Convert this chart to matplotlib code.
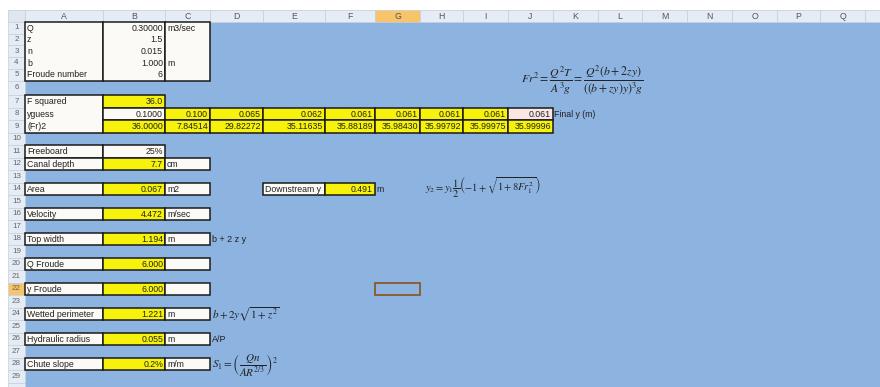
import matplotlib.pyplot as plt
from matplotlib.patches import Rectangle

plt.rcParams['font.family'] = ['Liberation Sans', 'DejaVu Sans']
plt.rcParams['mathtext.fontset'] = 'stix'

# --- feuille : colonnes et lignes
col_letters = list('ABCDEFGHIJKLMNOPQR')
col_edges = [25, 103, 165, 210, 263, 325, 375, 420, 463, 508, 553, 598, 642, 687, 732, 777, 820, 865, 910]
n_rows = 30

# --- donnees d'entree
input_labels = ['Q', 'z', 'n', 'b', 'Froude number']
input_values = ['0.30000', '1.5', '0.015', '1.000', '6']
input_units = ['m3/sec', '', '', 'm', '']

# --- iterations
f_squared = '36.0'
yguess = ['0.1000', '0.100', '0.065', '0.062', '0.061', '0.061', '0.061', '0.061', '0.061']
fr2 = ['36.0000', '7.84514', '29.82272', '35.11635', '35.88189', '35.98430', '35.99792', '35.99975', '35.99996']

# --- resultats
result_rows = [11, 12, 14, 16, 18, 20, 22, 24, 26, 28]
result_labels = ['Freeboard', 'Canal depth', 'Area', 'Velocity', 'Top width', 'Q Froude',
                 'y Froude', 'Wetted perimeter', 'Hydraulic radius', 'Chute slope']
result_values = ['25%', '7.7', '0.067', '4.472', '1.194', '6.000', '6.000', '1.221', '0.055', '0.2%']
result_units = [None, 'cm', 'm2', 'm/sec', 'm', '', '', 'm', 'm', 'm/m']
notes = {18: ('b + 2 z y', 6.5), 24: (r'$b+2y\sqrt{1+z^2}$', 8), 26: ('A/P', 6.5),
         28: (r'$S_1=\left(\dfrac{Qn}{AR^{2/3}}\right)^2$', 8)}

downstream = ['Downstream y', '0.491', 'm']

BLUE = '#8db3e0'
YELLOW = '#f6f20c'
WHITE = '#fbfaf6'
PINK = '#fbe6e6'
HEAD = '#e6ecf5'
ORANGE = '#f7c46a'
FS = 6.3

# hauteurs des lignes
row_top = {}
y = 22.0
for r in range(1, n_rows + 1):
    row_top[r] = y
    if r <= 5:
        y += 11.7
    elif r == 6:
        y += 14.5
    else:
        y += 12.5
row_bot = {r: row_top[r + 1] if r < n_rows else row_top[r] + 12.5 for r in row_top}


def cx(c):
    i = col_letters.index(c)
    return col_edges[i], col_edges[i + 1]


fig = plt.figure(figsize=(8.8, 3.87), dpi=100)
ax = fig.add_axes([0, 0, 1, 1])
ax.set_xlim(0, 880)
ax.set_ylim(387, 0)
ax.axis('off')

# fond bleu
ax.add_patch(Rectangle((25, 22), 880, 400, facecolor=BLUE, edgecolor='none'))

# en-tetes de colonnes
ax.add_patch(Rectangle((8, 10), 880, 12, facecolor=HEAD, edgecolor='none'))
for i, c in enumerate(col_letters):
    x0, x1 = col_edges[i], col_edges[i + 1]
    fc = ORANGE if c == 'G' else HEAD
    ax.add_patch(Rectangle((x0, 10), x1 - x0, 12, facecolor=fc, edgecolor='#c5cfdc', lw=0.5))
    if x1 <= 880:
        ax.text((x0 + x1) / 2, 16.5, c, ha='center', va='center', fontsize=FS, color='#555555')
ax.add_patch(Rectangle((8, 10), 17, 12, facecolor='#dfe6f0', edgecolor='#c5cfdc', lw=0.5))

# numeros de lignes
for r in range(1, n_rows + 1):
    fc = ORANGE if r == 22 else HEAD
    ax.add_patch(Rectangle((8, row_top[r]), 17, row_bot[r] - row_top[r], facecolor=fc,
                           edgecolor='#c5cfdc', lw=0.5))
    if row_bot[r] <= 387:
        ax.text(16.5, (row_top[r] + row_bot[r]) / 2, str(r), ha='center', va='center',
                fontsize=FS - 0.5, color='#666666')


def cell(c, r, text='', fc=WHITE, ha='right', r2=None, lw=1.1):
    x0, x1 = cx(c)
    r2 = r2 or r
    y0, y1 = row_top[r], row_bot[r2]
    ax.add_patch(Rectangle((x0, y0), x1 - x0, y1 - y0, facecolor=fc, edgecolor='#1a1a1a', lw=lw))
    if text:
        tx = x1 - 2 if ha == 'right' else x0 + 2
        ax.text(tx, (y0 + y1) / 2 + 0.3, text, ha=ha, va='center', fontsize=FS, color='#222222')


def label(c, r, text, dx=2):
    x0, _ = cx(c)
    ax.text(x0 + dx, (row_top[r] + row_bot[r]) / 2 + 0.3, text, ha='left', va='center',
            fontsize=FS, color='#222222')


# bloc des entrees
for c in 'ABC':
    cell(c, 1, r2=5)
for k, (lab, val, unit) in enumerate(zip(input_labels, input_values, input_units)):
    r = k + 1
    label('A', r, lab)
    ym = (row_top[r] + row_bot[r]) / 2 + 0.3
    ax.text(cx('B')[1] - 2, ym, val, ha='right', va='center', fontsize=FS, color='#222222')
    if unit:
        label('C', r, unit)

# bloc des iterations
cell('A', 7, r2=9)
label('A', 7, 'F squared')
label('A', 8, 'yguess')
label('A', 9, '(Fr)2')
cell('B', 7, f_squared, fc=YELLOW)
iter_cols = list('BCDEFGHIJ')
for k, c in enumerate(iter_cols):
    fc = WHITE if c == 'B' else (PINK if c == 'J' else YELLOW)
    cell(c, 8, yguess[k], fc=fc)
    cell(c, 9, fr2[k], fc=YELLOW)
label('K', 8, 'Final y (m)', dx=1)

# bloc des resultats
for r, lab, val, unit in zip(result_rows, result_labels, result_values, result_units):
    cell('A', r, lab, ha='left')
    cell('B', r, val, fc=WHITE if lab == 'Freeboard' else YELLOW)
    if unit is not None:
        cell('C', r, unit, ha='left')
for r, (txt, fs) in notes.items():
    ax.text(cx('D')[0] + 2, (row_top[r] + row_bot[r]) / 2 + 1, txt, ha='left', va='center',
            fontsize=fs, color='#222222')

cell('E', 14, downstream[0], ha='left')
cell('F', 14, downstream[1], fc=YELLOW)
label('G', 14, downstream[2], dx=1)

# cellule active
ax.add_patch(Rectangle((cx('G')[0], row_top[22]), cx('G')[1] - cx('G')[0],
                       row_bot[22] - row_top[22], facecolor='none', edgecolor='#8a5a2a', lw=1.3))

# formules
ax.text(582, 80, r'$Fr^2=\dfrac{Q^2T}{A^3g}=\dfrac{Q^2(b+2zy)}{((b+zy)y)^3g}$',
        ha='center', va='center', fontsize=8.5, color='#222222')
ax.text(425, 187, r'$y_2=y_1\dfrac{1}{2}\left(-1+\sqrt{1+8Fr_1^2}\right)$',
        ha='left', va='center', fontsize=7.5, color='#222222')

fig.savefig('out.png', dpi=100, facecolor='white')
